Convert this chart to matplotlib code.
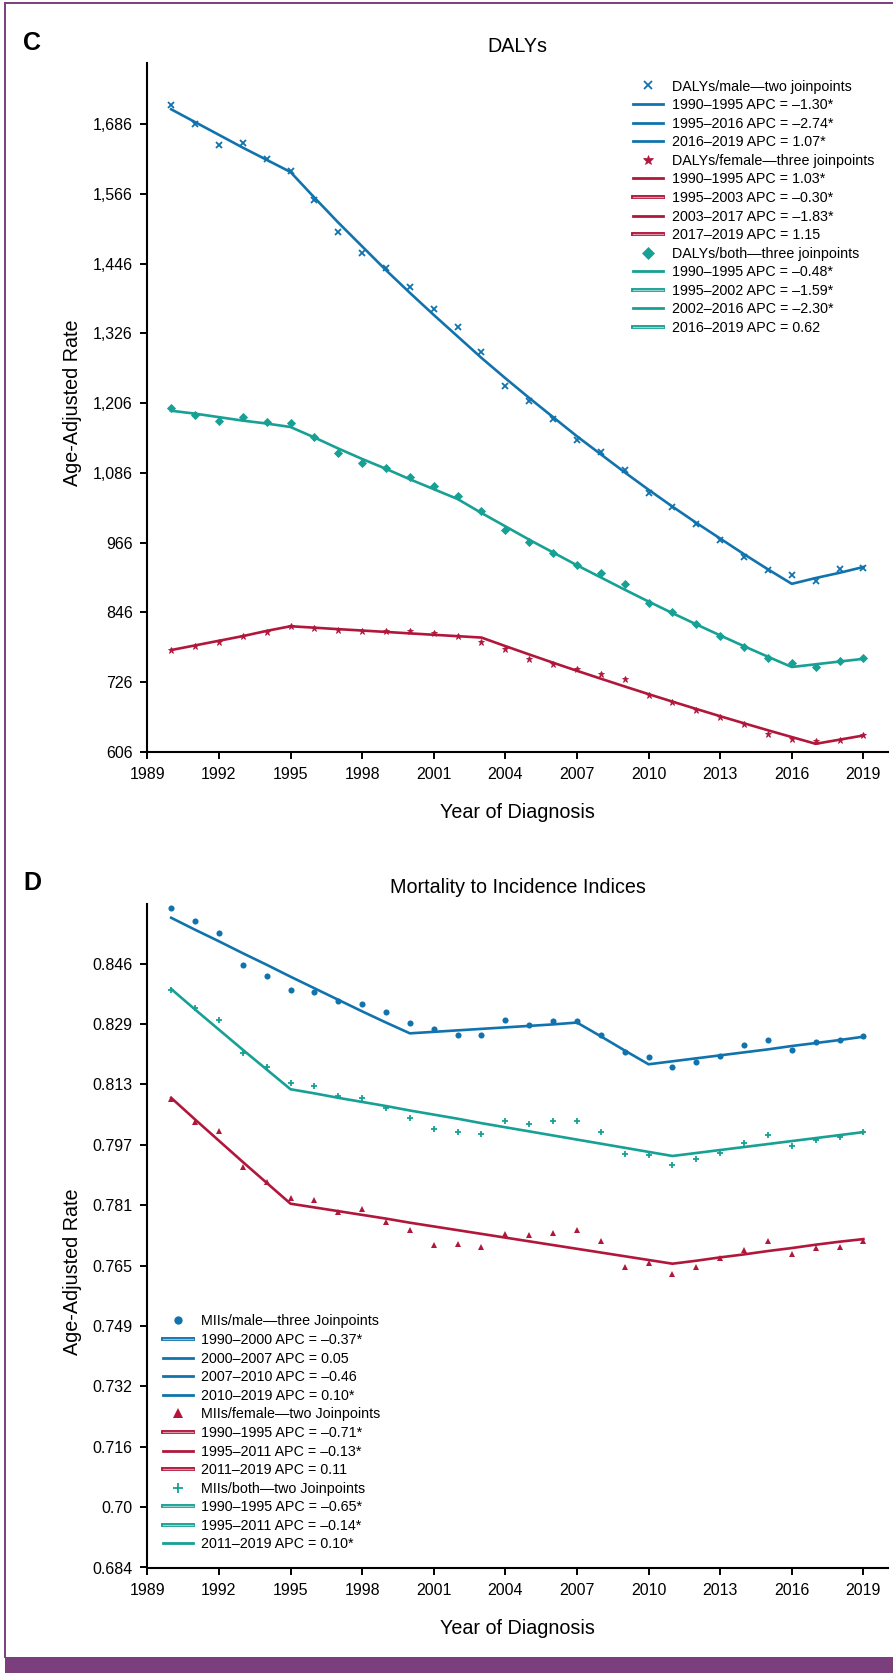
import matplotlib
matplotlib.use("Agg")
import matplotlib.pyplot as plt
from matplotlib.lines import Line2D
from matplotlib.patches import Rectangle
import matplotlib.patheffects as pe
import numpy as np

plt.rcParams['font.family'] = ['Liberation Sans', 'DejaVu Sans']

# ---------------- data ----------------
years = list(range(1990, 2020))
x_ticks = [1989, 1992, 1995, 1998, 2001, 2004, 2007, 2010, 2013, 2016, 2019]

# Panel C: DALYs (observed)
dalys_male = [1719.4, 1686.7, 1650.5, 1653.5, 1627.0, 1606.3, 1555.9, 1500.2, 1464.1, 1438.8,
              1406.6, 1368.2, 1337.7, 1294.2, 1235.3, 1209.8, 1178.8, 1142.7, 1122.5, 1091.0,
              1050.9, 1027.8, 998.0, 970.0, 941.7, 918.8, 909.4, 900.4, 920.5, 922.8]
dalys_female = [781.1, 788.0, 794.9, 804.7, 812.1, 821.9, 819.0, 816.1, 813.8, 813.8,
                813.8, 810.9, 805.2, 794.9, 783.6, 765.1, 757.5, 747.9, 739.8, 731.2,
                703.1, 692.1, 678.3, 665.2, 654.2, 637.0, 628.4, 624.4, 626.1, 634.2]
dalys_both = [1197.2, 1186.2, 1174.8, 1182.8, 1174.2, 1171.4, 1147.3, 1120.8, 1103.6, 1093.9,
              1079.5, 1062.6, 1046.0, 1020.4, 987.2, 966.5, 948.1, 927.6, 914.2, 895.2,
              862.0, 846.0, 825.3, 804.7, 785.7, 766.8, 758.2, 752.4, 762.7, 767.8]
# Panel C: joinpoint fitted values
dalys_male_fit = [1712, 1690, 1668, 1646, 1625, 1604, 1560, 1517, 1476, 1435,
                  1396, 1358, 1321, 1284, 1249, 1215, 1182, 1149, 1118, 1087,
                  1057, 1028, 1000, 973, 946, 920, 895, 905, 914, 924]
dalys_female_fit = [781, 789, 797, 805, 814, 822, 819.5, 817, 814.6, 812.2,
                    809.7, 807.3, 804.9, 802.5, 787.8, 773.4, 759.2, 745.3, 731.7, 718.3,
                    705.1, 692.2, 679.6, 667.1, 654.9, 642.9, 631.2, 619.6, 626.7, 633.9]
dalys_both_fit = [1193, 1188, 1182, 1176, 1171, 1165, 1147, 1128, 1110, 1093,
                  1075, 1058, 1041, 1017, 994, 971, 949, 927, 906, 885,
                  864.5, 844.6, 825.2, 806.2, 787.6, 769.5, 751.8, 756.5, 761.2, 765.9]
c_yticks = [606, 726, 846, 966, 1086, 1206, 1326, 1446, 1566, 1686]

# Panel D: Mortality to incidence indices (observed)
mii_male = [0.8610, 0.8574, 0.8541, 0.8457, 0.8426, 0.8389, 0.8384, 0.8361, 0.8352, 0.8330,
            0.8300, 0.8284, 0.8269, 0.8269, 0.8309, 0.8296, 0.8306, 0.8306, 0.8269, 0.8222,
            0.8209, 0.8183, 0.8196, 0.8213, 0.8241, 0.8256, 0.8228, 0.8249, 0.8255, 0.8266]
mii_female = [0.8096, 0.8034, 0.8010, 0.7914, 0.7875, 0.7832, 0.7827, 0.7795, 0.7801, 0.7767,
              0.7746, 0.7704, 0.7707, 0.7700, 0.7736, 0.7731, 0.7738, 0.7745, 0.7716, 0.7646,
              0.7656, 0.7627, 0.7646, 0.7669, 0.7693, 0.7716, 0.7682, 0.7697, 0.7699, 0.7717]
mii_both = [0.8388, 0.8341, 0.8308, 0.8219, 0.8184, 0.8141, 0.8133, 0.8104, 0.8100, 0.8072,
            0.8045, 0.8016, 0.8008, 0.8002, 0.8039, 0.8030, 0.8039, 0.8039, 0.8007, 0.7949,
            0.7946, 0.7920, 0.7935, 0.7953, 0.7980, 0.8001, 0.7970, 0.7987, 0.7995, 0.8007]
# Panel D: joinpoint fitted values
mii_male_fit = [0.8583, 0.8551, 0.8520, 0.8488, 0.8457, 0.8425, 0.8394, 0.8363, 0.8332, 0.8302,
                0.8273, 0.8277, 0.8281, 0.8285, 0.8289, 0.8293, 0.8297, 0.8302, 0.8265, 0.8227,
                0.8190, 0.8198, 0.8206, 0.8214, 0.8222, 0.8230, 0.8239, 0.8247, 0.8255, 0.8264]
mii_female_fit = [0.8100, 0.8042, 0.7985, 0.7928, 0.7872, 0.7816, 0.7806, 0.7796, 0.7786, 0.7776,
                  0.7765, 0.7755, 0.7745, 0.7735, 0.7725, 0.7715, 0.7705, 0.7695, 0.7685, 0.7675,
                  0.7665, 0.7655, 0.7663, 0.7672, 0.7680, 0.7689, 0.7697, 0.7706, 0.7714, 0.7721]
mii_both_fit = [0.8392, 0.8337, 0.8283, 0.8229, 0.8176, 0.8123, 0.8112, 0.8100, 0.8089, 0.8078,
                0.8066, 0.8055, 0.8044, 0.8032, 0.8021, 0.8010, 0.7999, 0.7988, 0.7977, 0.7966,
                0.7955, 0.7944, 0.7952, 0.7960, 0.7968, 0.7976, 0.7984, 0.7992, 0.8000, 0.8008]
d_ytick_labels = ['0.684', '0.70', '0.716', '0.732', '0.749', '0.765',
                  '0.781', '0.797', '0.813', '0.829', '0.846']

c_legend_labels = [
    'DALYs/male\u2014two joinpoints',
    '1990\u20131995 APC = \u20131.30*',
    '1995\u20132016 APC = \u20132.74*',
    '2016\u20132019 APC = 1.07*',
    'DALYs/female\u2014three joinpoints',
    '1990\u20131995 APC = 1.03*',
    '1995\u20132003 APC = \u20130.30*',
    '2003\u20132017 APC = \u20131.83*',
    '2017\u20132019 APC = 1.15',
    'DALYs/both\u2014three joinpoints',
    '1990\u20131995 APC = \u20130.48*',
    '1995\u20132002 APC = \u20131.59*',
    '2002\u20132016 APC = \u20132.30*',
    '2016\u20132019 APC = 0.62',
]
d_legend_labels = [
    'MIIs/male\u2014three Joinpoints',
    '1990\u20132000 APC = \u20130.37*',
    '2000\u20132007 APC = 0.05',
    '2007\u20132010 APC = \u20130.46',
    '2010\u20132019 APC = 0.10*',
    'MIIs/female\u2014two Joinpoints',
    '1990\u20131995 APC = \u20130.71*',
    '1995\u20132011 APC = \u20130.13*',
    '2011\u20132019 APC = 0.11',
    'MIIs/both\u2014two Joinpoints',
    '1990\u20131995 APC = \u20130.65*',
    '1995\u20132011 APC = \u20130.14*',
    '2011\u20132019 APC = 0.10*',
]

# ---------------- style ----------------
BLUE = '#1173ad'
RED = '#b0173b'
TEAL = '#17a094'
PURPLE = '#7b3f7e'
W, H = 893, 1673

fig = plt.figure(figsize=(W / 100, H / 100), dpi=100)


def px_axes(left, top, right, bottom):
    return fig.add_axes([left / W, 1 - bottom / H, (right - left) / W, (bottom - top) / H])


def style_axes(ax):
    for s in ['top', 'right']:
        ax.spines[s].set_visible(False)
    for s in ['left', 'bottom']:
        ax.spines[s].set_linewidth(1.5)
        ax.spines[s].set_color('black')
    ax.tick_params(axis='both', direction='out', length=5, width=1.4,
                   labelsize=11.5, colors='black')
    ax.tick_params(axis='y', pad=5.5)
    ax.tick_params(axis='x', pad=6)
    ax.set_xlim(1989, 2020.03)
    ax.set_xticks(x_ticks)
    ax.set_xticklabels([str(t) for t in x_ticks])


def tint(c, f=0.55):
    rgb = np.array(matplotlib.colors.to_rgb(c))
    return tuple(rgb + (1 - rgb) * f)


def seg_handle(color, double=False):
    if double:
        return Line2D([], [], color=tint(color), lw=0.9,
                      path_effects=[pe.Stroke(linewidth=2.8, foreground=color), pe.Normal()])
    return Line2D([], [], color=color, lw=2.0)


LEG_FS = 10.3
LEG_FS_PX = LEG_FS * 100 / 72


def make_legend(ax, handles, labels, left_px, top_px):
    return ax.legend(handles, labels, loc='upper left',
                     bbox_to_anchor=(left_px / W, 1 - top_px / H),
                     bbox_transform=fig.transFigure,
                     frameon=False, fontsize=LEG_FS, handlelength=30 / LEG_FS_PX,
                     handletextpad=8.5 / LEG_FS_PX,
                     labelspacing=0.32, borderpad=0, borderaxespad=0)


LW = 1.9

# ---------------- Panel C ----------------
axC = px_axes(147.3, 63, 888, 751.7)
style_axes(axC)
axC.set_ylim(606, 1791.7)
axC.set_yticks(c_yticks)
axC.set_yticklabels([f'{v:,}' for v in c_yticks])

axC.plot(years, dalys_male_fit, color=BLUE, lw=LW, zorder=2)
axC.plot(years, dalys_female_fit, color=RED, lw=LW, zorder=2)
axC.plot(years, dalys_both_fit, color=TEAL, lw=LW, zorder=2)
axC.plot(years, dalys_male, ls='none', marker='x', ms=4, mew=1.3, color=BLUE, zorder=3, clip_on=False)
axC.plot(years, dalys_female, ls='none', marker='*', ms=5, mew=0.6, color=RED, zorder=3, clip_on=False)
axC.plot(years, dalys_both, ls='none', marker='D', ms=3.6, mew=0.6, color=TEAL, zorder=3, clip_on=False)

axC.set_title('DALYs', fontsize=14.2, pad=8)
axC.set_xlabel('Year of Diagnosis', fontsize=14.2, va='center')
axC.xaxis.set_label_coords(0.5, -60.5 / (751.7 - 63))
axC.set_ylabel('Age-Adjusted Rate', fontsize=14.2, va='center')
axC.yaxis.set_label_coords((72.5 - 147.3) / (888 - 147.3), 0.506)

c_handles = [
    Line2D([], [], ls='none', marker='x', ms=6, mew=1.3, color=BLUE),
    seg_handle(BLUE), seg_handle(BLUE), seg_handle(BLUE),
    Line2D([], [], ls='none', marker='*', ms=7, mew=0.5, color=RED),
    seg_handle(RED), seg_handle(RED, True), seg_handle(RED), seg_handle(RED, True),
    Line2D([], [], ls='none', marker='D', ms=6, mew=0.5, color=TEAL),
    seg_handle(TEAL), seg_handle(TEAL, True), seg_handle(TEAL), seg_handle(TEAL, True),
]
make_legend(axC, c_handles, c_legend_labels, 633, 79.5)

# ---------------- Panel D ----------------
axD = px_axes(147.3, 904, 888, 1567.5)
style_axes(axD)
axD.set_ylim(0.684, 0.862)
d_yticks = np.linspace(float(d_ytick_labels[0]), float(d_ytick_labels[-1]), len(d_ytick_labels))
axD.set_yticks(d_yticks)
axD.set_yticklabels(d_ytick_labels)

axD.plot(years, mii_male_fit, color=BLUE, lw=LW, zorder=2)
axD.plot(years, mii_female_fit, color=RED, lw=LW, zorder=2)
axD.plot(years, mii_both_fit, color=TEAL, lw=LW, zorder=2)
axD.plot(years, mii_male, ls='none', marker='o', ms=4.4, mew=0, color=BLUE, zorder=3, clip_on=False)
axD.plot(years, mii_female, ls='none', marker='^', ms=4.6, mew=0, color=RED, zorder=3, clip_on=False)
axD.plot(years, mii_both, ls='none', marker='+', ms=5, mew=1.3, color=TEAL, zorder=3, clip_on=False)

axD.set_title('Mortality to Incidence Indices', fontsize=14.2, pad=8)
axD.set_xlabel('Year of Diagnosis', fontsize=14.2, va='center')
axD.xaxis.set_label_coords(0.5, -60.5 / (1567.5 - 904))
axD.set_ylabel('Age-Adjusted Rate', fontsize=14.2, va='center')
axD.yaxis.set_label_coords((72.5 - 147.3) / (888 - 147.3), 0.445)

d_handles = [
    Line2D([], [], ls='none', marker='o', ms=6, mew=0, color=BLUE),
    seg_handle(BLUE, True), seg_handle(BLUE), seg_handle(BLUE), seg_handle(BLUE),
    Line2D([], [], ls='none', marker='^', ms=6.5, mew=0, color=RED),
    seg_handle(RED, True), seg_handle(RED), seg_handle(RED, True),
    Line2D([], [], ls='none', marker='+', ms=7, mew=1.3, color=TEAL),
    seg_handle(TEAL, True), seg_handle(TEAL, True), seg_handle(TEAL),
]
make_legend(axD, d_handles, d_legend_labels, 162.7, 1314.5)

# ---------------- panel letters & frame ----------------
fig.text(32 / W, 1 - 43 / H, 'C', fontsize=18, fontweight='bold', ha='center', va='center')
fig.text(32 / W, 1 - 883 / H, 'D', fontsize=18, fontweight='bold', ha='center', va='center')

fig.add_artist(Line2D([5 / W, 5 / W], [1 - 3 / H, 1 - 1657 / H], color=PURPLE, lw=1.4,
                      transform=fig.transFigure))
fig.add_artist(Line2D([5 / W, 1], [1 - 3 / H, 1 - 3 / H], color=PURPLE, lw=1.4,
                      transform=fig.transFigure))
fig.add_artist(Rectangle((5 / W, 0), 1 - 5 / W, 16 / H, transform=fig.transFigure,
                         facecolor=PURPLE, edgecolor='none'))

fig.savefig('out.png', dpi=100)
